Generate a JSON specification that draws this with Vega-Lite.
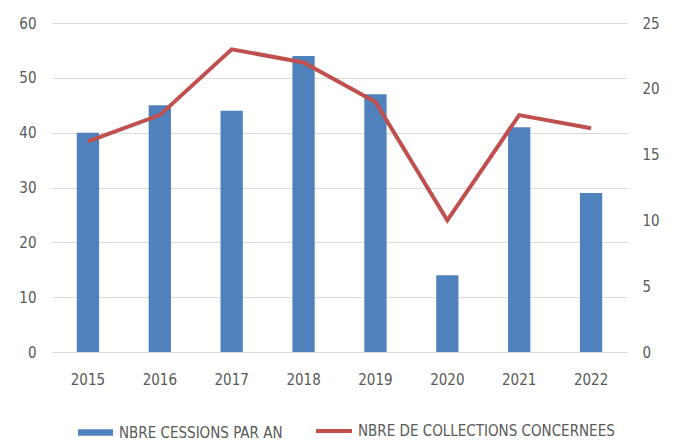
{
  "$schema": "https://vega.github.io/schema/vega-lite/v6.json",
  "width": 575,
  "height": 329,
  "autosize": {"type": "none"},
  "padding": {"left": 52, "top": 23, "right": 48, "bottom": 89},
  "background": "white",
  "config": {
    "font": "DejaVu Sans Condensed",
    "view": {"stroke": null},
    "axis": {"labelFont": "DejaVu Sans Condensed", "labelFontSize": 15, "labelColor": "#595959", "domain": false, "ticks": false, "title": null},
    "legend": {"labelFont": "DejaVu Sans Condensed", "labelFontSize": 15, "labelColor": "#595959", "labelLimit": 400}
  },
  "data": {
    "values": [
      {"year": "2015", "cessions": 40, "collections": 16},
      {"year": "2016", "cessions": 45, "collections": 18},
      {"year": "2017", "cessions": 44, "collections": 23},
      {"year": "2018", "cessions": 54, "collections": 22},
      {"year": "2019", "cessions": 47, "collections": 19},
      {"year": "2020", "cessions": 14, "collections": 10},
      {"year": "2021", "cessions": 41, "collections": 18},
      {"year": "2022", "cessions": 29, "collections": 17}
    ]
  },
  "encoding": {
    "x": {"field": "year", "type": "ordinal", "scale": {"paddingInner": 0.69, "paddingOuter": 0.345},
      "axis": {"labelAngle": 0, "labelPadding": 20, "grid": false}}
  },
  "layer": [
    {
      "mark": {"type": "bar"},
      "encoding": {
        "y": {"field": "cessions", "type": "quantitative", "scale": {"domain": [0, 60]},
          "axis": {"values": [0, 10, 20, 30, 40, 50, 60], "grid": true, "gridColor": "#D9D9D9", "gridWidth": 1.2, "labelPadding": 16, "orient": "left"}},
        "fill": {"datum": "NBRE CESSIONS PAR AN", "type": "nominal",
          "scale": {"range": ["#4F81BD"]},
          "legend": {"title": null, "orient": "none", "legendX": 25, "legendY": 391, "symbolType": "M-1,-0.186H1V0.186H-1Z", "symbolSize": 1225, "labelOffset": 5}}
      }
    },
    {
      "mark": {"type": "line", "strokeWidth": 4},
      "encoding": {
        "y": {"field": "collections", "type": "quantitative", "scale": {"domain": [0, 25]},
          "axis": {"values": [0, 5, 10, 15, 20, 25], "grid": false, "labelPadding": 15, "orient": "right"}},
        "stroke": {"datum": "NBRE DE COLLECTIONS CONCERNEES", "type": "nominal",
          "scale": {"range": ["#C0504D"]},
          "legend": {"title": null, "orient": "none", "legendX": 262, "legendY": 388, "symbolType": "stroke", "symbolSize": 1296, "symbolStrokeWidth": 4, "labelOffset": 4}}
      }
    }
  ],
  "resolve": {"scale": {"y": "independent", "fill": "independent", "stroke": "independent"}}
}
